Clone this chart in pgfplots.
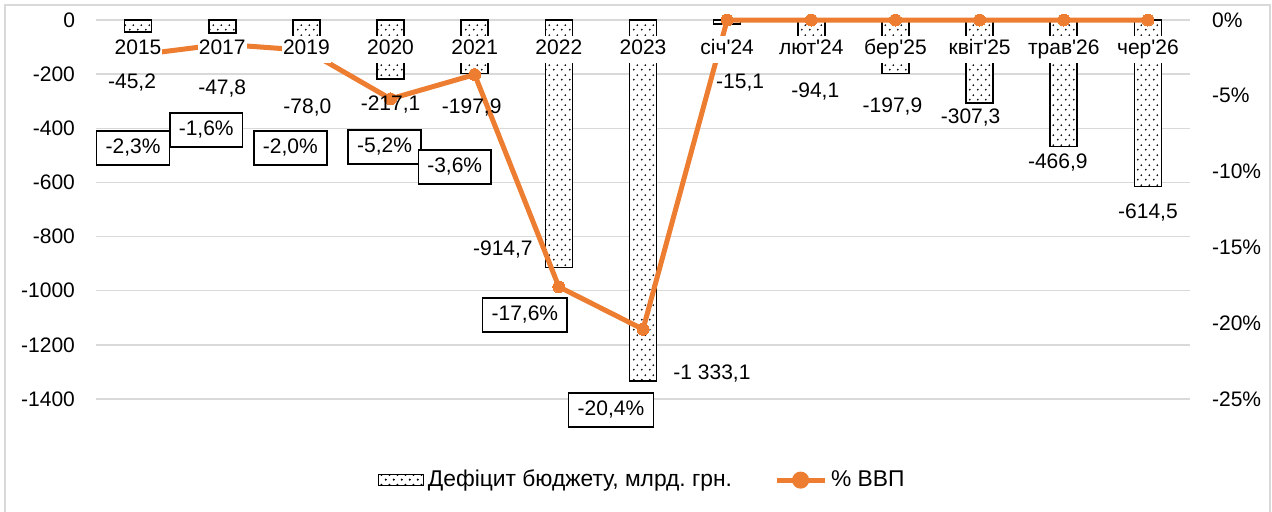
\documentclass[border=0pt]{standalone}
\usepackage{pgfplots}
\pgfplotsset{compat=1.18}
\usepackage{pgfplotstable}
\usepackage{fontspec}
\setmainfont{Liberation Sans}
\usetikzlibrary{patterns.meta}
\definecolor{lineorange}{RGB}{237,125,49}
\definecolor{gridgray}{RGB}{217,217,217}
\newcommand\cf{\fontsize{10.5}{12.6}\selectfont}
\newcommand\lf{\fontsize{11.4}{13.6}\selectfont}
\frenchspacing

\tikzdeclarepattern{
  name=exceldots,
  type=uncolored,
  bounding box={(0pt,0pt) and (4pt,5pt)},
  tile size={(4pt,5pt)},
  code={
    \pgfpathcircle{\pgfpoint{1pt}{1.25pt}}{0.55pt}
    \pgfpathcircle{\pgfpoint{3pt}{3.75pt}}{0.55pt}
    \pgfusepath{fill}
  }
}

\pgfplotstableread[col sep=semicolon]{
x;y;lab;dx;dy
0;-45.2;-45,2;-3;-24.9
1;-47.8;-47,8;0;-28
2;-78.0;-78,0;0.5;-33
3;-217.1;-217,1;0;-13.1
4;-197.9;-197,9;-1.5;-17.2
5;-914.7;-914,7;-28;9.3
6;-1333.1;-1 333,1;34.5;3.5
7;-15.1;-15,1;6.5;-29.5
8;-94.1;-94,1;2;-23.2
9;-197.9;-197,9;-1.5;-16.7
10;-307.3;-307,3;-4.5;-7.4
11;-466.9;-466,9;-3;-8.3
12;-614.5;-614,5;0;-13.3
}\deficit

\pgfplotstableread{
x p
0 -2.3
1 -1.6
2 -2.0
3 -5.2
4 -3.6
5 -17.6
6 -20.4
7 0
8 0
9 0
10 0
11 0
12 0
}\gdp

\pgfplotstableread[col sep=semicolon]{
x;p;lab;dx;dy
0;-2.3;-2,3\%;-2.5;-46.5
1;-1.6;-1,6\%;-8;-42.9
2;-2.0;-2,0\%;-8;-48.9
3;-5.2;-5,2\%;-3;-24.1
4;-3.6;-3,6\%;-10;-46.2
5;-17.6;-17,6\%;-17;-14.1
6;-20.4;-20,4\%;-16;-40.4
}\gdplab

\begin{document}
\begin{tikzpicture}[font=\cf]
\begin{axis}[
  at={(48pt,56pt)}, anchor=south west,
  scale only axis, width=547pt, height=189.5pt,
  xmin=-0.5, xmax=12.5, ymin=-1400, ymax=0,
  clip=false,
  axis line style={draw=none},
  xtick style={draw=none}, ytick style={draw=none},
  ymajorgrids, grid style={gridgray, line width=0.75pt},
  xtick=\empty,
  ytick={0,-200,-400,-600,-800,-1000,-1200,-1400},
  yticklabels={0,-200,-400,-600,-800,-1000,-1200,-1400},
  yticklabel style={font=\cf, xshift=-7pt},
  legend style={at={(0.5,-0.214)}, anchor=center, draw=none, fill=none, legend columns=2, font=\lf,
    /tikz/every even column/.append style={column sep=19pt}},
]
\addplot[ybar, bar width=13.5pt, bar shift=0pt, draw=black, line width=0.8pt,
  fill=white, postaction={pattern=exceldots},
  legend image code/.code={\draw[draw=black, line width=0.7pt, fill=white, postaction={pattern=exceldots}] (0pt,-2.75pt) rectangle (22.5pt,2.75pt);}]
  table[x=x, y=y] {\deficit};
\addlegendentry{Дефіцит бюджету, млрд. грн.}
\addplot[lineorange, line width=2.5pt, mark=*, mark size=3pt, mark options={fill=lineorange, draw=lineorange, line width=0pt},
  legend image code/.code={\draw[lineorange, line width=2.5pt] (0pt,0pt) -- (24pt,0pt); \fill[lineorange] (12pt,0pt) circle (3pt);}]
  table[x=x, y expr=\thisrow{p}*56] {\gdp};
\addlegendentry{\% ВВП}
\addplot[only marks, mark=none, forget plot, point meta=explicit symbolic,
  visualization depends on={\thisrow{dx}\as\labdx},
  visualization depends on={\thisrow{dy}\as\labdy},
  nodes near coords={\pgfplotspointmeta},
  every node near coord/.append style={font=\cf, anchor=center, xshift=\labdx pt, yshift=\labdy pt, inner sep=0pt}]
  table[x=x, y=y, meta=lab] {\deficit};
\addplot[only marks, mark=none, forget plot, point meta=explicit symbolic,
  visualization depends on={\thisrow{dx}\as\labdx},
  visualization depends on={\thisrow{dy}\as\labdy},
  nodes near coords={\pgfplotspointmeta},
  every node near coord/.append style={font=\cf, anchor=center, xshift=\labdx pt, yshift=\labdy pt,
    draw=black, fill=white, line width=0.7pt, inner xsep=4.5pt, inner ysep=3.25pt, text height=8pt, text depth=2.5pt}]
  table[x=x, y expr=\thisrow{p}*56, meta=lab] {\gdplab};
\end{axis}
\begin{axis}[
  at={(48pt,56pt)}, anchor=south west,
  scale only axis, width=547pt, height=189.5pt,
  xmin=-0.5, xmax=12.5, ymin=-25, ymax=0,
  xtick={0,...,12},
  xticklabels={2015,2017,2019,2020,2021,2022,2023,січ\textquotesingle24,лют\textquotesingle24,бер\textquotesingle25,квіт\textquotesingle25,трав\textquotesingle26,чер\textquotesingle26},
  xticklabel pos=upper,
  xticklabel style={font=\cf, anchor=center, yshift=-14.5pt, fill=white, inner xsep=0.5pt, inner ysep=1.5pt, text height=8pt, text depth=2.5pt},
  yticklabel pos=right,
  axis line style={draw=none},
  xtick style={draw=none}, ytick style={draw=none},
  ytick={0,-5,-10,-15,-20,-25},
  yticklabels={0\%,-5\%,-10\%,-15\%,-20\%,-25\%},
  yticklabel style={font=\cf, xshift=7.5pt},
]
\addplot[draw=none] coordinates {(0,-1)};
\end{axis}
\draw[gridgray, line width=0.75pt] (2.5pt,-5pt) -- (2.5pt,253pt) -- (635pt,253pt) -- (635pt,-5pt);
\pgfresetboundingbox
\path[use as bounding box] (0,0) rectangle (636pt,255.5pt);
\end{tikzpicture}
\end{document}
